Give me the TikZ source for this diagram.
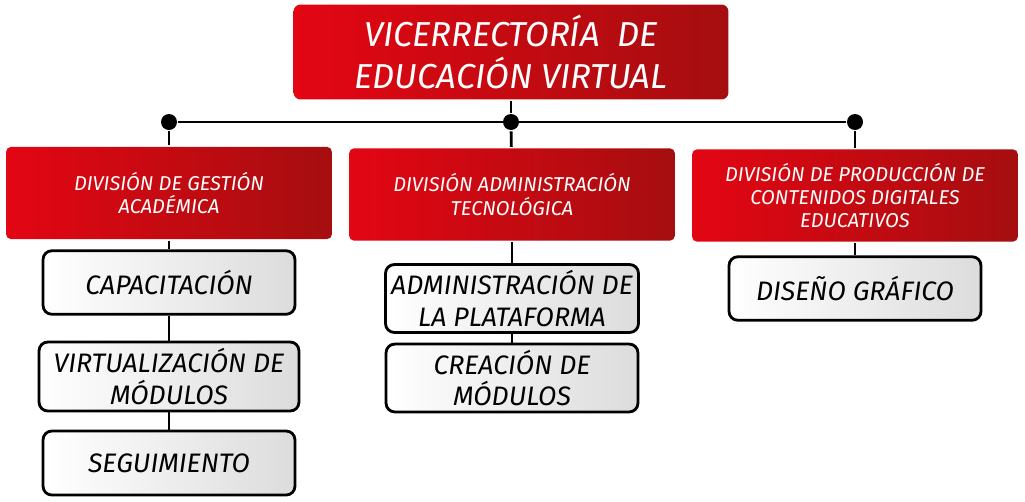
\documentclass[tikz,border=0pt]{standalone}
\usepackage{fontspec}
\setmainfont{Fira Sans}
\usepackage{xcolor}
\usepackage{tikz}
\definecolor{rojoA}{HTML}{E30613}
\definecolor{rojoB}{HTML}{A50E10}
\definecolor{grisB}{HTML}{DCDCDC}
\tikzset{jefe/.style={rounded corners=4pt,left color=rojoA,right color=rojoB,text=white,align=center,font=\itshape\fontsize{19.7}{24}\selectfont,minimum width=8.7cm,minimum height=1.9cm}}
\tikzset{div/.style={rounded corners=3pt,left color=rojoA,right color=rojoB,text=white,align=center,font=\itshape\fontsize{11.4}{13.2}\selectfont,minimum width=6.52cm,minimum height=1.85cm,inner xsep=1pt}}
\tikzset{area/.style={rounded corners=5pt,draw,line width=1.6pt,left color=white,right color=grisB,align=center,font=\itshape\fontsize{15.2}{18}\selectfont,minimum width=5.04cm,minimum height=1.27cm,inner xsep=1pt}}
\tikzset{punto/.style={circle,fill=black,minimum size=0.32cm,inner sep=0pt}}

\begin{document}
\begin{tikzpicture}[x=0.02cm,y=-0.02cm,line width=1.6pt]
    \useasboundingbox (0,0) rectangle (1025,501);
    \node[jefe] (v)at (511,52) {VICERRECTOR\'IA\ \ DE\\EDUCACI\'ON VIRTUAL};

    \node[punto] (p1)at (169,122) {};
    \node[punto] (p2)at (511,122) {};
    \node[punto] (p3)at (855,122) {};

    \node[div] (d1)at (169,193) {DIVISI\'ON DE GESTI\'ON\\ACAD\'EMICA};
    \node[div] (d2)at (512,194.5) {DIVISI\'ON ADMINISTRACI\'ON\\TECNOL\'OGICA};
    \node[div] (d3)at (855,195.5) {DIVISI\'ON DE PRODUCCI\'ON DE\\CONTENIDOS DIGITALES\\EDUCATIVOS};

    \node[area] (a1)at (169,282.5) {CAPACITACI\'ON};
    \node[area,minimum width=5.2cm,minimum height=1.38cm] (a2)at (169,376.5) {VIRTUALIZACI\'ON DE\\M\'ODULOS};
    \node[area,minimum height=1.28cm] (a3)at (169,463) {SEGUIMIENTO};
    \node[area,minimum width=5.06cm] (b1)at (512,298.5) {ADMINISTRACI\'ON DE\\LA PLATAFORMA};
    \node[area,minimum height=1.28cm] (b2)at (512,378) {CREACI\'ON DE\\M\'ODULOS};
    \node[area] (c1)at (855,288.5) {DISE\~NO GR\'AFICO};

    \draw [] (v) to [] (p2);
    \draw [] (p1) to [] (p3);
    \draw [] (p1) to [] (d1);
    \draw [] (p2) to [] (d2);
    \draw [] (p3) to [] (d3);
    \draw [] (d1) to [] (a1);
    \draw [] (a1) to [] (a2);
    \draw [] (a2) to [] (a3);
    \draw [] (d2) to [] (b1);
    \draw [] (b1) to [] (b2);
    \draw [] (d3) to [] (c1);
\end{tikzpicture}
\end{document}
